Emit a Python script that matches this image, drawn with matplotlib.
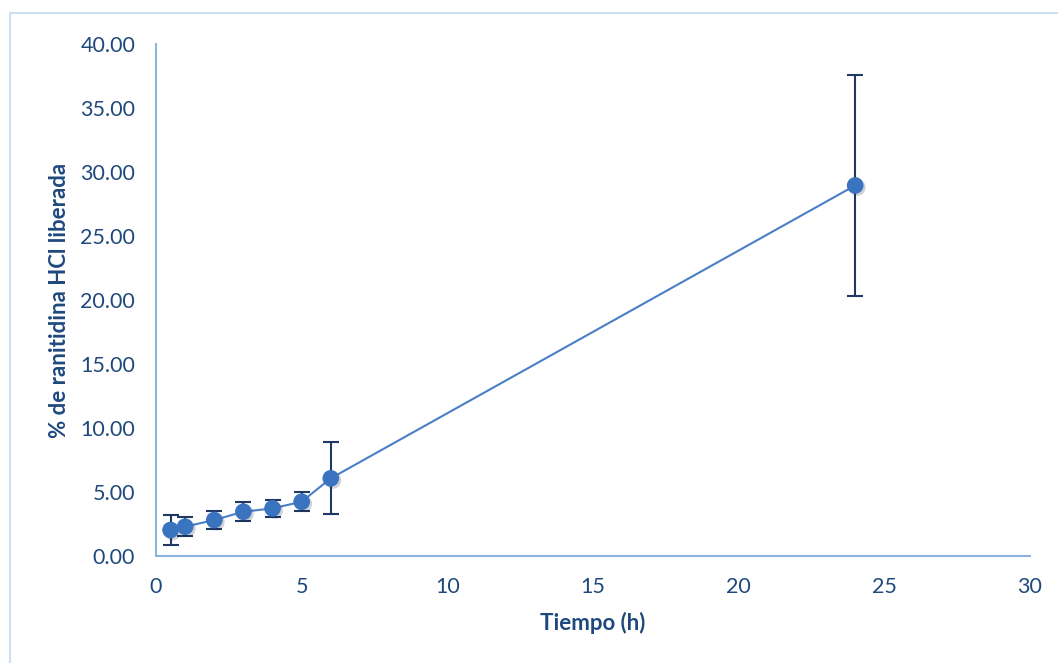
import matplotlib
matplotlib.use("Agg")
import matplotlib.pyplot as plt
from matplotlib.patches import Rectangle
import matplotlib.patheffects as pe

tiempo = [0.5, 1, 2, 3, 4, 5, 6, 24]
liberada = [2.03, 2.29, 2.81, 3.46, 3.72, 4.24, 6.07, 28.95]
error = [1.17, 0.76, 0.69, 0.73, 0.68, 0.75, 2.8, 8.6]
xticks = [0, 5, 10, 15, 20, 25, 30]
yticks = [0, 5, 10, 15, 20, 25, 30, 35, 40]

plt.rcParams['font.family'] = ['Lato', 'DejaVu Sans']
txt = '#1F497D'

fig = plt.figure(figsize=(10.58, 6.63), dpi=100)
fig.patches.append(Rectangle((10/1058, -0.01), 1.1, 1 - 13/663 + 0.01, transform=fig.transFigure,
                             fill=False, edgecolor='#C5D9F1', linewidth=1.2))
ax = fig.add_axes([156/1058, 1 - 556/663, (1030-156)/1058, (556-44)/663])

ax.errorbar(tiempo, liberada, yerr=error, fmt='none', ecolor='#1F3864', elinewidth=1.5,
            capsize=6, capthick=1.5, zorder=2)
ax.plot(tiempo, liberada, color='#4A7EC7', linewidth=1.5, zorder=3)
ax.plot(tiempo, liberada, 'o', color='#3A73C0', markersize=12, markeredgewidth=0, zorder=4,
        path_effects=[pe.SimplePatchShadow(offset=(1.5, -1.5), alpha=0.2), pe.Normal()])

ax.set_xlim(0, 30)
ax.set_ylim(0, 40)
ax.set_xticks(xticks)
ax.set_yticks(yticks)
ax.set_yticklabels([f"{v:.2f}" for v in yticks])
ax.tick_params(length=0, labelsize=15.5, labelcolor=txt)
ax.tick_params(axis='x', pad=15)
ax.tick_params(axis='y', pad=15)
for s in ['top', 'right']:
    ax.spines[s].set_visible(False)
for s in ['left', 'bottom']:
    ax.spines[s].set_color('#8DB3E2')
    ax.spines[s].set_linewidth(1.5)

ax.set_xlabel('Tiempo (h)', fontsize=16, fontweight='bold', color=txt, labelpad=11)
ax.set_ylabel('% de ranitidina HCl liberada', fontsize=16, fontweight='bold', color=txt, labelpad=7)

fig.savefig('out.png', dpi=100)
